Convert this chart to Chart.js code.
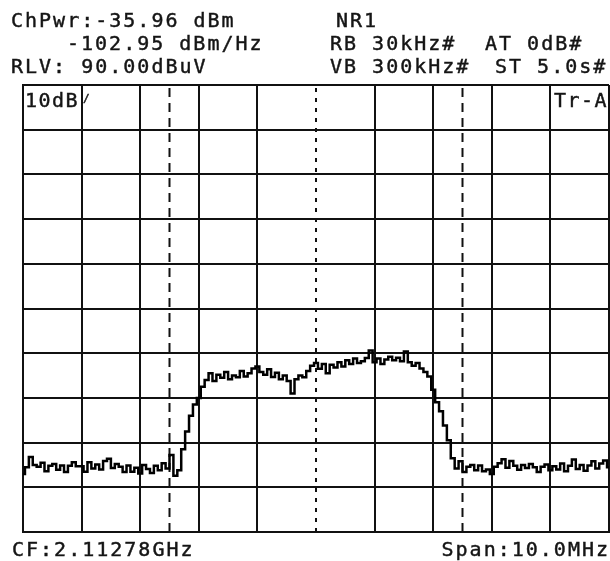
<!DOCTYPE html>
<html>
<head>
<meta charset="utf-8">
<script src="https://cdn.jsdelivr.net/npm/chart.js@4/dist/chart.umd.min.js"></script>
<style>
html,body{margin:0;padding:0;background:#fff;}
#c{display:block;}
</style>
</head>
<body>
<canvas id="c" width="610" height="561"></canvas>
<script>
// Sweep: span 10 MHz around CF, 151 trace points (offset in MHz)
const spanMHz = 10;
const sweepCount = 151;
// Trace level in dBuV
const traceLevels = [
 3.0,4.5,6.8,5.0,4.6,5.5,3.6,4.8,5.2,3.9,
 4.9,3.4,4.8,5.6,4.7,4.7,3.5,5.6,4.2,5.1,
 4.0,5.9,6.4,4.3,5.2,4.6,3.4,4.9,3.5,4.4,
 3.1,5.0,4.1,3.2,4.8,3.8,5.4,4.2,7.2,2.6,
 3.8,8.5,12.5,16.0,18.5,20.0,22.5,24.0,25.5,23.8,
 25.2,24.5,25.8,24.2,25.0,24.6,26.0,24.8,25.5,26.6,
 27.0,25.8,25.2,26.4,24.7,25.6,24.2,25.0,23.8,21.0,
 24.2,25.0,24.6,26.0,27.2,27.8,26.5,27.6,25.5,27.4,
 26.8,28.0,27.0,28.4,27.6,28.8,27.8,28.2,28.9,30.6,
 28.0,28.8,27.6,28.6,29.2,28.4,29.0,28.2,30.4,28.0,
 27.2,27.8,26.6,25.8,24.8,21.8,19.0,17.0,13.8,10.5,
 6.5,4.2,5.8,3.4,4.6,5.0,3.8,4.9,3.6,4.0,
 3.0,4.6,5.4,6.3,4.4,5.9,4.8,3.9,5.0,4.3,
 5.2,4.5,3.4,4.6,5.1,3.8,4.7,4.0,5.3,3.6,
 4.8,6.2,4.1,5.0,3.7,4.9,5.8,4.2,5.3,6.0,
 4.5
];
// Channel power integration limits (MHz offset) and centre marker
const channelEdges = [-2.5, 2.5];
const centreLine = [0];
// Screen scale
const refLevel = 90;      // dBuV
const dbPerDiv = 10;
const divisions = 10;

// Screen annotations
const headerLeft = ["ChPwr:-35.96 dBm", "-102.95 dBm/Hz", "RLV: 90.00dBuV"];
const headerRight = ["NR1", "RB 30kHz#", "AT 0dB#", "VB 300kHz#", "ST 5.0s#"];
const scaleLabel = "10dB";
const traceLabel = "Tr-A";
const footerLeft = "CF:2.11278GHz";
const footerRight = "Span:10.0MHz";

const freqs = traceLevels.map((_, i) => -spanMHz / 2 + i * spanMHz / (sweepCount - 1));
const tracePoints = traceLevels.map((v, i) => ({x: freqs[i], y: v}));
const bottomLevel = refLevel - dbPerDiv * divisions;

function vline(x) { return [{x: x, y: bottomLevel}, {x: x, y: refLevel}]; }

function txt(ctx, s, x, y) {
  ctx.fillText(s, x, y);
  ctx.strokeText(s, x, y);
}

const textPlugin = {
  id: 'screenText',
  afterDraw(chart) {
    const ctx = chart.ctx;
    ctx.save();
    ctx.fillStyle = '#151515';
    ctx.strokeStyle = '#151515';
    ctx.lineWidth = 0.45;
    ctx.font = '20px "DejaVu Sans Mono"';
    ctx.letterSpacing = '2px';
    ctx.textBaseline = 'alphabetic';
    ctx.textAlign = 'left';
    txt(ctx, headerLeft[0], 11, 27);
    txt(ctx, headerLeft[1], 67, 50);
    txt(ctx, headerLeft[2], 11, 73);
    txt(ctx, headerRight[0], 336, 27);
    txt(ctx, headerRight[1], 330, 50);
    txt(ctx, headerRight[2], 485, 50);
    txt(ctx, headerRight[3], 330, 73);
    txt(ctx, headerRight[4], 495, 73);
    ctx.letterSpacing = '1.5px';
    txt(ctx, scaleLabel, 25, 107);
    txt(ctx, traceLabel, 554, 107);
    ctx.font = '11px "DejaVu Sans Mono"';
    ctx.letterSpacing = '0px';
    txt(ctx, '/', 83, 102);
    ctx.font = '20px "DejaVu Sans Mono"';
    ctx.letterSpacing = '2px';
    txt(ctx, footerLeft, 12, 556);
    ctx.textAlign = 'right';
    txt(ctx, footerRight, 610, 556);
    ctx.restore();
  }
};

new Chart(document.getElementById('c'), {
  type: 'line',
  data: {
    datasets: [
      {data: tracePoints, borderColor: '#000', borderWidth: 2.5, pointRadius: 0, stepped: 'middle', borderJoinStyle: 'miter'},
      {data: vline(channelEdges[0]), borderColor: '#111', borderWidth: 2, borderDash: [9, 6], pointRadius: 0},
      {data: vline(channelEdges[1]), borderColor: '#111', borderWidth: 2, borderDash: [9, 6], pointRadius: 0},
      {data: vline(centreLine[0]), borderColor: '#111', borderWidth: 2, borderDash: [4, 6], pointRadius: 0}
    ]
  },
  options: {
    responsive: false,
    animation: false,
    devicePixelRatio: 1,
    layout: {padding: {left: 23, top: 85, right: 1, bottom: 29}},
    plugins: {legend: {display: false}, tooltip: {enabled: false}},
    scales: {
      x: {
        type: 'linear', min: -spanMHz / 2, max: spanMHz / 2,
        ticks: {display: false, stepSize: 1},
        grid: {
          drawTicks: false, lineWidth: 2,
          color: (c) => (c.tick && Math.abs(c.tick.value) < 1e-9) ? 'rgba(0,0,0,0)' : '#111'
        },
        border: {display: true, color: '#111', width: 2}
      },
      y: {
        min: bottomLevel, max: refLevel,
        ticks: {display: false, stepSize: dbPerDiv},
        grid: {drawTicks: false, lineWidth: 2, color: '#111'},
        border: {display: true, color: '#111', width: 2}
      }
    }
  },
  plugins: [textPlugin]
});
</script>
</body>
</html>
